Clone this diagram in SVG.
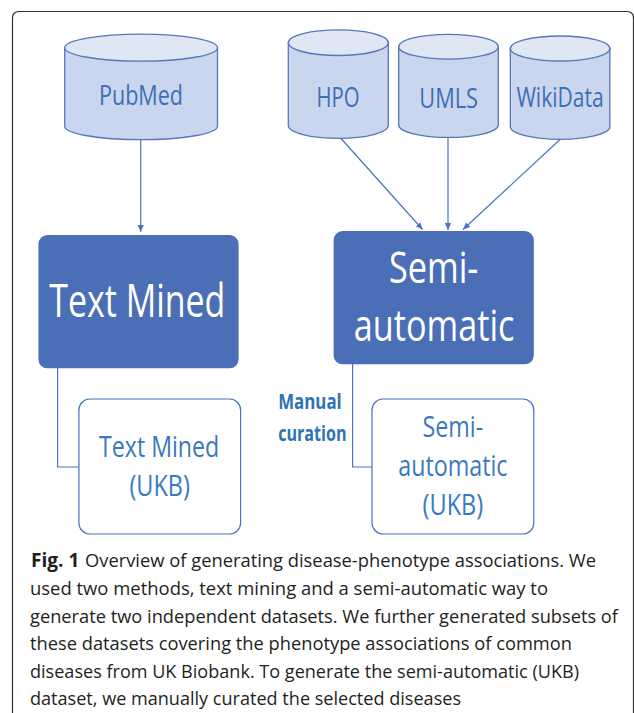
<svg xmlns="http://www.w3.org/2000/svg" width="634" height="713" viewBox="0 0 634 713">
<defs>
<style>
.cylb{fill:#c9d6ed;stroke:#5677bb;stroke-width:1.3}
.cylt{fill:#dfe6f4;stroke:#5677bb;stroke-width:1.3}
.cyltx{font-family:"Open Sans","Liberation Sans",sans-serif;font-size:28px;fill:#3c6fb6;text-anchor:start}
.big{fill:#4a6fb6}
.bigtx{font-family:"Open Sans","Liberation Sans",sans-serif;fill:#ffffff}
.sub{fill:#ffffff;stroke:#4a72c0;stroke-width:1.2}
.subtx{font-family:"Open Sans","Liberation Sans",sans-serif;font-size:29px;fill:#3a78bf}
.lbl{font-family:"Open Sans","Liberation Sans",sans-serif;font-size:22px;font-weight:bold;fill:#2e74b5}
.conn{fill:none;stroke:#4a72c0;stroke-width:1.2}
.cap{font-family:"Open Sans","Liberation Sans",sans-serif;font-size:19px;fill:#231f20}
</style>
<marker id="ah" viewBox="0 0 8 8" refX="8" refY="4" markerWidth="7" markerHeight="7" markerUnits="userSpaceOnUse" orient="auto">
<path d="M0,0.5 L8,4 L0,7.5 Z" fill="#4a72c0"/>
</marker>
</defs>
<rect x="12.5" y="11.5" width="621" height="730" rx="6" fill="none" stroke="#333333" stroke-width="1.2"/>

<g id="pubmed">
<path class="cylb" d="M64.7,47.7 V126.2 A76.4,13.5 0 0 0 217.5,126.2 V47.7 Z"/>
<ellipse class="cylt" cx="141.1" cy="47.7" rx="76.4" ry="13.5"/>
<text class="cyltx" x="99" y="105" textLength="84" lengthAdjust="spacingAndGlyphs">PubMed</text>
</g>
<g id="hpo">
<path class="cylb" d="M288.3,42.7 V125.5 A50,12.8 0 0 0 388.3,125.5 V42.7 Z"/>
<ellipse class="cylt" cx="338.3" cy="42.7" rx="50" ry="12.8"/>
<text class="cyltx" x="316.6" y="107.3" textLength="43" lengthAdjust="spacingAndGlyphs">HPO</text>
</g>
<g id="umls">
<path class="cylb" d="M398.7,46.7 V125 A49.8,12.4 0 0 0 498.3,125 V46.7 Z"/>
<ellipse class="cylt" cx="448.5" cy="46.7" rx="49.8" ry="12.4"/>
<text class="cyltx" x="419.3" y="108.3" textLength="58.7" lengthAdjust="spacingAndGlyphs">UMLS</text>
</g>
<g id="wikidata">
<path class="cylb" d="M510.3,48.5 V126.8 A49.8,12.5 0 0 0 609.9,126.8 V48.5 Z"/>
<ellipse class="cylt" cx="560.1" cy="48.5" rx="49.8" ry="12.5"/>
<text class="cyltx" x="516.4" y="107.3" textLength="87.3" lengthAdjust="spacingAndGlyphs">WikiData</text>
</g>

<g id="connectors">
<line class="conn" x1="140.7" y1="139.7" x2="140.7" y2="232" marker-end="url(#ah)"/>
<line class="conn" x1="341" y1="138.5" x2="422.6" y2="229.5" marker-end="url(#ah)"/>
<line class="conn" x1="448" y1="137.5" x2="448" y2="230" marker-end="url(#ah)"/>
<line class="conn" x1="560" y1="139.5" x2="463" y2="229.5" marker-end="url(#ah)"/>
<path class="conn" d="M57.6,368 V467 H78.9"/>
<path class="conn" d="M352.6,364 V467 H372"/>
</g>

<g id="textmined">
<rect class="big" x="38.4" y="235" width="200.2" height="133.3" rx="9"/>
<text class="bigtx" x="49.3" y="316.7" font-size="46" textLength="176" lengthAdjust="spacingAndGlyphs">Text Mined</text>
</g>
<g id="semiautomatic">
<rect class="big" x="333.6" y="231" width="200.2" height="133.3" rx="9"/>
<text class="bigtx" x="389" y="283.3" font-size="44" textLength="89.4" lengthAdjust="spacingAndGlyphs">Semi-</text>
<text class="bigtx" x="353.8" y="340.7" font-size="44" textLength="160.6" lengthAdjust="spacingAndGlyphs">automatic</text>
</g>
<g id="textmined-ukb">
<rect class="sub" x="78.9" y="399" width="161.7" height="135" rx="11"/>
<text class="subtx" x="99" y="456.7" textLength="120.2" lengthAdjust="spacingAndGlyphs">Text Mined</text>
<text class="subtx" x="129.4" y="496" textLength="60.6" lengthAdjust="spacingAndGlyphs">(UKB)</text>
</g>
<g id="semiautomatic-ukb">
<rect class="sub" x="372" y="399" width="161.8" height="135" rx="11"/>
<text class="subtx" x="422.6" y="436.7" textLength="60.6" lengthAdjust="spacingAndGlyphs">Semi-</text>
<text class="subtx" x="398.3" y="476" textLength="109.2" lengthAdjust="spacingAndGlyphs">automatic</text>
<text class="subtx" x="422.6" y="515" textLength="60.6" lengthAdjust="spacingAndGlyphs">(UKB)</text>
</g>
<g id="manual-curation">
<text class="lbl" x="278.2" y="408.5" textLength="63.5" lengthAdjust="spacingAndGlyphs">Manual</text>
<text class="lbl" x="278.2" y="440.5" textLength="68.3" lengthAdjust="spacingAndGlyphs">curation</text>
</g>

<g id="caption">
<text class="cap" x="31" y="567.4" font-weight="bold" textLength="48.3" lengthAdjust="spacingAndGlyphs">Fig. 1</text>
<text class="cap" x="85" y="567.4" textLength="511" lengthAdjust="spacingAndGlyphs">Overview of generating disease-phenotype associations. We</text>
<text class="cap" x="30" y="595" textLength="518" lengthAdjust="spacingAndGlyphs">used two methods, text mining and a semi-automatic way to</text>
<text class="cap" x="30" y="622.6" textLength="588" lengthAdjust="spacingAndGlyphs">generate two independent datasets. We further generated subsets of</text>
<text class="cap" x="30" y="650.2" textLength="542" lengthAdjust="spacingAndGlyphs">these datasets covering the phenotype associations of common</text>
<text class="cap" x="30" y="677.8" textLength="549" lengthAdjust="spacingAndGlyphs">diseases from UK Biobank. To generate the semi-automatic (UKB)</text>
<text class="cap" x="30" y="705.4" textLength="431" lengthAdjust="spacingAndGlyphs">dataset, we manually curated the selected diseases</text>
</g>
</svg>
